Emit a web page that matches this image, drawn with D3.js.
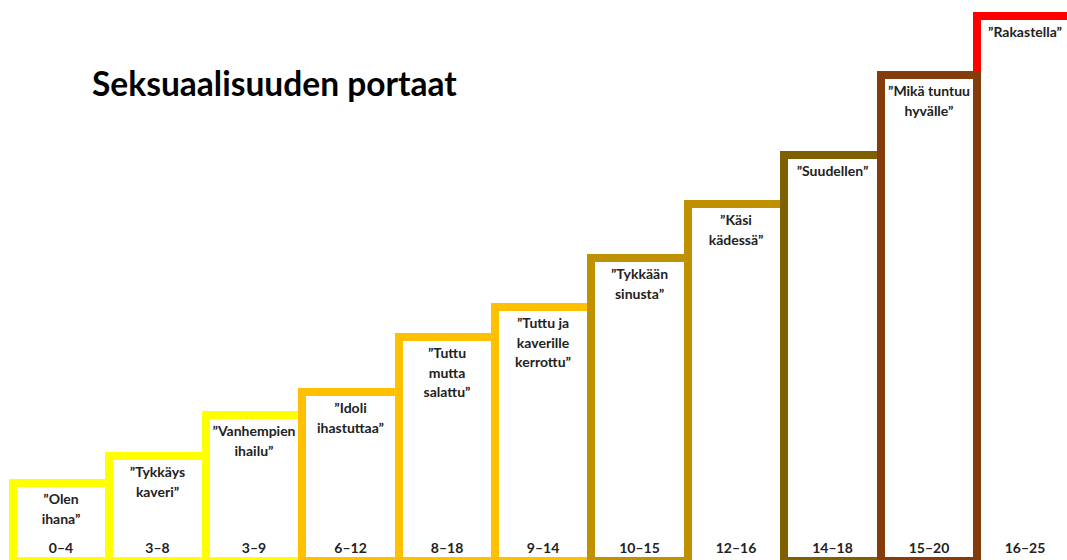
<!DOCTYPE html>
<html>
<head>
<meta charset="utf-8">
<script src="https://cdn.jsdelivr.net/npm/d3@7"></script>
<style>
    body { margin: 0; background: #fff; }
    svg { display: block; }
</style>
</head>
<body>
<div id="chart"></div>
<script>
    //Chart data
    var chartTitle = "Seksuaalisuuden portaat";

    var ageRanges = ["0–4", "3–8", "3–9", "6–12", "8–18", "9–14", "10–15", "12–16", "14–18", "15–20", "16–25"];

    var stepLabels = [
        ["”Olen", "ihana”"],
        ["”Tykkäys", "kaveri”"],
        ["”Vanhempien", "ihailu”"],
        ["”Idoli", "ihastuttaa”"],
        ["”Tuttu", "mutta", "salattu”"],
        ["”Tuttu ja", "kaverille", "kerrottu”"],
        ["”Tykkään", "sinusta”"],
        ["”Käsi", "kädessä”"],
        ["”Suudellen”"],
        ["”Mikä tuntuu", "hyvälle”"],
        ["”Rakastella”"]
    ];

    //Height of each step (0 = floor, 100 = top step)
    var stepLevels = [14.8, 19.7, 27.2, 31.4, 41.4, 46.9, 55.8, 65.7, 74.6, 89.2, 100];

    var stepColours = ["#ffff00", "#ffff00", "#ffff00", "#ffc000", "#ffc000", "#ffc000",
        "#bf9000", "#bf9000", "#7f6000", "#843c0c", "#ff0000"];

    (function (d3) {

        "use strict";

        var width = 1067;
        var height = 560;
        var border = 8;
        var floorY = 565;
        var lineHeight = 19.5;
        var fontFamily = "Lato, 'Open Sans', sans-serif";

        //These boxes run on below the picture, so their bottom edge is not seen
        var openBottom = ["12–16", "16–25"];

        var steps = ageRanges.map(function (a, i) {
            return { age: a, lines: stepLabels[i], level: stepLevels[i], colour: stepColours[i] };
        });

        var svg = d3.select("#chart").append("svg")
            .attr("width", width)
            .attr("height", height);

        var x = d3.scaleBand()
            .domain(ageRanges)
            .range([9, 9 + 96.4 * ageRanges.length]);

        var y = d3.scaleLinear()
            .domain([0, 100])
            .range([560, 12]);

        var step = x.step();

        //Whole pixel edges so shared borders do not bleed
        function left(d) { return Math.round(x(d.age)); }
        function right(d) { return Math.round(x(d.age) + step) + border; }
        function top(d) { return Math.round(y(d.level)); }
        function bottom(d) { return openBottom.indexOf(d.age) >= 0 ? floorY + 20 : floorY; }

        //Neighbouring steps share a border, so each box is one border wider than a step.
        //The top step sits behind the others.
        var drawOrder = steps.slice(-1).concat(steps.slice(0, -1));

        svg.selectAll(".step")
            .data(drawOrder)
            .enter()
            .append("rect")
            .attr("class", "step")
            .attr("x", function (d) { return left(d) + border / 2; })
            .attr("y", function (d) { return top(d) + border / 2; })
            .attr("width", function (d) { return right(d) - left(d) - border; })
            .attr("height", function (d) { return bottom(d) - top(d) - border; })
            .attr("fill", "#fff")
            .attr("stroke", function (d) { return d.colour; })
            .attr("stroke-width", border);

        //Texts on top of all boxes
        var gText = svg.selectAll(".stepText")
            .data(steps)
            .enter()
            .append("g")
            .attr("class", "stepText")
            .attr("transform", function (d) {
                return "translate(" + ((left(d) + right(d)) / 2) + ",0)";
            });

        gText.selectAll(".stepLabel")
            .data(function (d) {
                return d.lines.map(function (l, i) { return { text: l, top: top(d) + border, i: i }; });
            })
            .enter()
            .append("text")
            .attr("class", "stepLabel")
            .attr("text-anchor", "middle")
            .attr("y", function (d) { return d.top + 17 + d.i * lineHeight; })
            .style("font-family", fontFamily)
            .style("font-weight", "bold")
            .style("font-size", "14px")
            .style("fill", "#222")
            .text(function (d) { return d.text; });

        gText.append("text")
            .attr("class", "ageLabel")
            .attr("text-anchor", "middle")
            .attr("y", 553)
            .style("font-family", fontFamily)
            .style("font-weight", "bold")
            .style("font-size", "14px")
            .style("fill", "#222")
            .text(function (d) { return d.age; });

        //Title, fitted to its width in the original
        var title = svg.append("text")
            .attr("x", 92)
            .attr("y", 96)
            .style("font-family", fontFamily)
            .style("font-weight", "bold")
            .style("font-size", "30px")
            .style("fill", "#000")
            .text(chartTitle);

        var len = title.node().getComputedTextLength();
        if (len > 0) {
            title.style("font-size", (30 * 365 / len) + "px");
        }

    })(d3);
</script>
</body>
</html>
